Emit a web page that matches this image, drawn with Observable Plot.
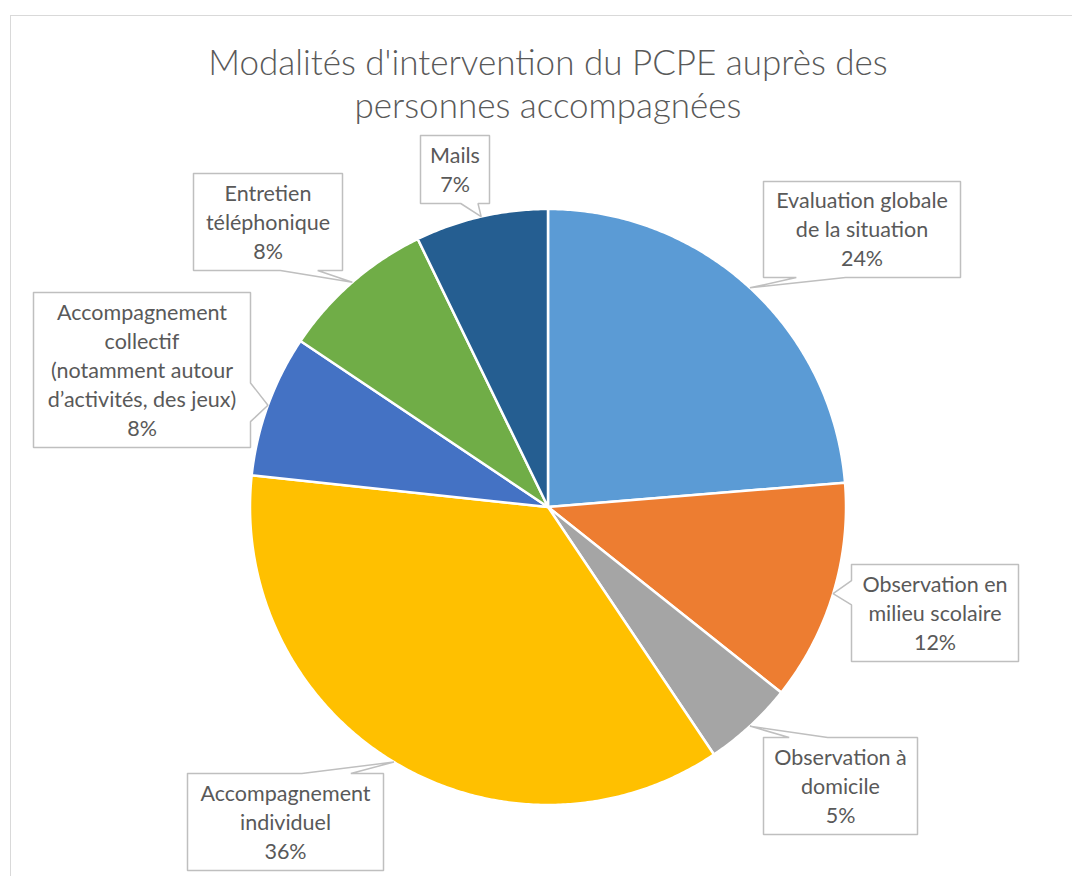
<!DOCTYPE html>
<html>
<head>
<meta charset="utf-8">
<script src="https://cdn.jsdelivr.net/npm/d3@7"></script>
<script src="https://cdn.jsdelivr.net/npm/@observablehq/plot@0.6"></script>
<style>
  html, body { margin: 0; padding: 0; background: #fff; overflow: hidden; }
  #frame { position: absolute; left: 10px; top: 15px; width: 1100px; height: 900px; border: 1px solid #D9D9D9; box-sizing: border-box; }
  #title { position: absolute; left: 0; top: 40px; width: 1096px; text-align: center;
           font-family: Lato, "Open Sans", sans-serif; font-weight: 300; font-size: 35px; line-height: 43px; color: #595959; }
  #chart { position: absolute; left: 0; top: 0; }
</style>
</head>
<body>
<div id="frame"></div>
<div id="title">Modalités d'intervention du PCPE auprès des<br>personnes accompagnées</div>
<div id="chart"></div>
<script>
// ---- data ----
const categories = [
  "Evaluation globale de la situation",
  "Observation en milieu scolaire",
  "Observation à domicile",
  "Accompagnement individuel",
  "Accompagnement collectif (notamment autour d’activités, des jeux)",
  "Entretien téléphonique",
  "Mails"
];
const values = [23.7, 12.0, 4.9, 36.1, 7.7, 8.4, 7.2];
const percentLabels = ["24%", "12%", "5%", "36%", "8%", "8%", "7%"];
const wrappedNames = [
  "Evaluation globale\nde la situation",
  "Observation en\nmilieu scolaire",
  "Observation à\ndomicile",
  "Accompagnement\nindividuel",
  "Accompagnement\ncollectif\n(notamment autour\nd’activités, des jeux)",
  "Entretien\ntéléphonique",
  "Mails"
];
const colors = ["#5B9BD5", "#ED7D31", "#A5A5A5", "#FFC000", "#4472C4", "#70AD47", "#255E91"];

// ---- layout (page pixels) ----
const W = 1072, H = 876;
const pie = {cx: 547.5, cy: 506.5, r: 298};
const labelBoxes = [
  [763, 181, 960, 277],
  [851, 564, 1018, 661],
  [763, 737, 917, 834],
  [187, 773, 383, 870],
  [33, 292, 250, 447],
  [193, 173, 342, 270],
  [420, 135, 489, 203]
];

// ---- geometry ----
const arcs = d3.pie().sort(null).value(d => d)(values);
const pt = (a, rr) => ({x: pie.cx + rr * Math.sin(a), y: pie.cy - rr * Math.cos(a)});

const slicePts = [];
arcs.forEach((a, i) => {
  const name = categories[i];
  slicePts.push({name, ...pt(0, 0)});
  const n = Math.max(8, Math.ceil((a.endAngle - a.startAngle) * 120));
  for (let k = 0; k <= n; k++) {
    const ang = a.startAngle + (a.endAngle - a.startAngle) * k / n;
    slicePts.push({name, ...pt(ang, pie.r)});
  }
  slicePts.push({name, ...pt(0, 0)});
});

const calloutPts = [];
const textPts = [];
arcs.forEach((a, i) => {
  const [x0, y0, x1, y1] = labelBoxes[i];
  const tip = pt((a.startAngle + a.endAngle) / 2, pie.r);
  const w = x1 - x0, h = y1 - y0, hc = (x0 + x1) / 2, vc = (y0 + y1) / 2;
  const dx = tip.x - hc, dy = tip.y - vc;
  const dz = Math.abs(dy) - Math.abs(dx * h / w);
  const xg1 = dx > 0 ? 7 : 2, xg2 = dx > 0 ? 10 : 5;
  const yg1 = dy > 0 ? 7 : 2, yg2 = dy > 0 ? 10 : 5;
  const xa = x0 + w * xg1 / 12, xb = x0 + w * xg2 / 12;
  const ya = y0 + h * yg1 / 12, yb = y0 + h * yg2 / 12;
  let p;
  if (dz > 0) {
    if (dy < 0) p = [[x0,y0],[xa,y0],[tip.x,tip.y],[xb,y0],[x1,y0],[x1,y1],[x0,y1],[x0,y0]];
    else p = [[x0,y0],[x1,y0],[x1,y1],[xb,y1],[tip.x,tip.y],[xa,y1],[x0,y1],[x0,y0]];
  } else {
    if (dx < 0) p = [[x0,y0],[x1,y0],[x1,y1],[x0,y1],[x0,yb],[tip.x,tip.y],[x0,ya],[x0,y0]];
    else p = [[x0,y0],[x1,y0],[x1,ya],[tip.x,tip.y],[x1,yb],[x1,y1],[x0,y1],[x0,y0]];
  }
  p.forEach(([x, y]) => calloutPts.push({name: categories[i], x, y}));
  textPts.push({x: hc, y: vc - 1.5, text: wrappedNames[i] + "\n" + percentLabels[i]});
});

const chart = Plot.plot({
  width: W, height: H,
  margin: 0,
  x: {type: "linear", domain: [0, W], range: [0, W], axis: null},
  y: {type: "linear", domain: [0, H], range: [0, H], axis: null},
  color: {type: "ordinal", domain: categories, range: colors},
  style: {fontFamily: "Lato, 'Open Sans', sans-serif", background: "transparent"},
  marks: [
    Plot.line(slicePts, {x: "x", y: "y", z: "name", fill: "name", stroke: "white", strokeWidth: 2.5, curve: "linear", strokeLinejoin: "round"}),
    Plot.line(calloutPts, {x: "x", y: "y", z: "name", fill: "white", stroke: "#BFBFBF", strokeWidth: 1.5, curve: "linear", strokeLinejoin: "miter"}),
    Plot.text(textPts, {x: "x", y: "y", text: "text", fontSize: 21.5, lineHeight: 1.35, fill: "#595959", textAnchor: "middle"})
  ]
});
document.getElementById("chart").appendChild(chart);
</script>
</body>
</html>
